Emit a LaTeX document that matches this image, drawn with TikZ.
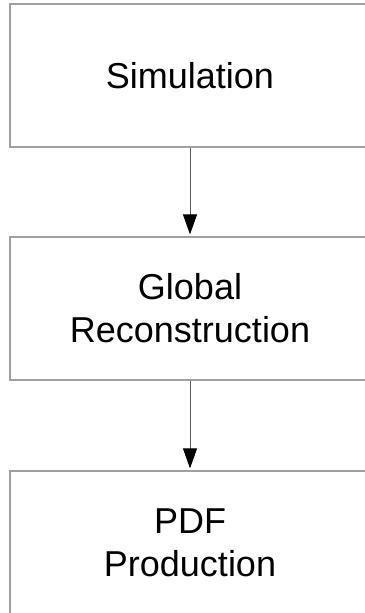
\documentclass[tikz,border=0pt]{standalone}
\usepackage{fontspec}
\setmainfont{Liberation Sans}
\usetikzlibrary{arrows.meta}
\usepackage{xcolor}

\tikzset{
  stagebox/.style={draw={rgb, 255:red, 160; green, 160; blue, 160}, line width=0.9pt, rectangle,
    minimum width=270pt, minimum height=107.25pt, inner sep=0pt, align=center,
    font=\fontsize{27}{32.4}\selectfont},
  flowarrow/.style={draw={rgb, 255:red, 90; green, 90; blue, 90}, line width=0.75pt,
    -{Triangle[length=15pt,width=10.5pt,color=black]}, shorten >=1.5pt}
}

\begin{document}
\begin{tikzpicture}[x=0.75pt,y=0.75pt,yscale=-1,xscale=1]
\useasboundingbox (0,0) rectangle (364,613);

% Boxes
\node [stagebox] (sim) at (190,75.5) {Simulation};
\node [stagebox] (reco) at (190,308.5) {Global\\Reconstruction};
\node [stagebox] (pdf) at (190,542.5) {PDF\\Production};

% Arrows
\draw [flowarrow] (sim) -- (reco);
\draw [flowarrow] (reco) -- (pdf);

\end{tikzpicture}
\end{document}
